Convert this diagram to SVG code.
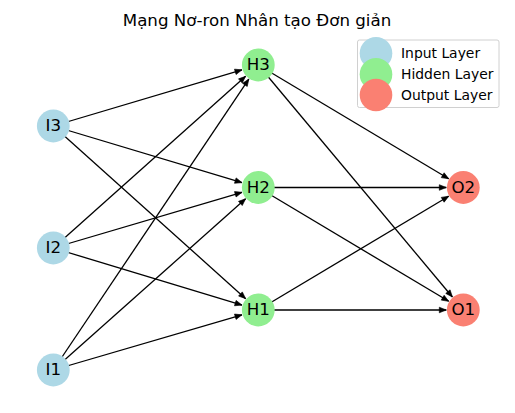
<svg xmlns="http://www.w3.org/2000/svg" width="515" height="413" viewBox="0 0 515 413">
<style>
.edge{stroke:#000;stroke-width:1.3;fill:none;marker-end:url(#ah)}
.lbl{font-family:"DejaVu Sans",sans-serif;font-size:16.67px;fill:#000;text-anchor:middle}
.in{fill:#ADD8E6}
.hid{fill:#90EE90}
.out{fill:#FA8072}
.leg{font-family:"DejaVu Sans",sans-serif;font-size:13.9px;fill:#000}
</style>
<defs>
<marker id="ah" markerUnits="userSpaceOnUse" markerWidth="8" markerHeight="6" refX="7" refY="2.8" orient="auto" overflow="visible">
<path d="M0,0 L7,2.8 L0,5.6 z" fill="#000" stroke="#000" stroke-width="0.6"/>
</marker>
</defs>
<rect width="515" height="413" fill="#fff"/>
<text x="257" y="25.5" font-family="DejaVu Sans, sans-serif" font-size="16.67" text-anchor="middle">Mạng Nơ-ron Nhân tạo Đơn giản</text>
<g id="connectors">
<line class="edge" x1="53.3" y1="126" x2="242.0" y2="69.85"/>
<line class="edge" x1="53.3" y1="126" x2="242.0" y2="182.6"/>
<line class="edge" x1="53.3" y1="126" x2="245.65" y2="298.65"/>
<line class="edge" x1="53.3" y1="248" x2="245.6" y2="76.3"/>
<line class="edge" x1="53.3" y1="248" x2="242.0" y2="192.3"/>
<line class="edge" x1="53.3" y1="248" x2="242.0" y2="305.1"/>
<line class="edge" x1="53.3" y1="370" x2="248.8" y2="79.1"/>
<line class="edge" x1="53.3" y1="370" x2="245.6" y2="198.8"/>
<line class="edge" x1="53.3" y1="370" x2="242.0" y2="314.8"/>
<line class="edge" x1="258.3" y1="65" x2="448.7" y2="178.8"/>
<line class="edge" x1="258.3" y1="65" x2="452.4" y2="297.0"/>
<line class="edge" x1="258.3" y1="187.5" x2="446.3" y2="187.5"/>
<line class="edge" x1="258.3" y1="187.5" x2="448.7" y2="301.3"/>
<line class="edge" x1="258.3" y1="310" x2="448.7" y2="196.2"/>
<line class="edge" x1="258.3" y1="310" x2="446.3" y2="310"/>
</g>
<g id="I3"><circle class="in" cx="53.3" cy="126" r="16.4"/><text class="lbl" x="53.3" y="131">I3</text></g>
<g id="I2"><circle class="in" cx="53.3" cy="248" r="16.4"/><text class="lbl" x="53.3" y="253">I2</text></g>
<g id="I1"><circle class="in" cx="53.3" cy="370" r="16.4"/><text class="lbl" x="53.3" y="375">I1</text></g>
<g id="H3"><circle class="hid" cx="258.3" cy="65" r="16.4"/><text class="lbl" x="258.3" y="70">H3</text></g>
<g id="H2"><circle class="hid" cx="258.3" cy="187.5" r="16.4"/><text class="lbl" x="258.3" y="192.5">H2</text></g>
<g id="H1"><circle class="hid" cx="258.3" cy="310" r="16.4"/><text class="lbl" x="258.3" y="315">H1</text></g>
<g id="O2"><circle class="out" cx="463.3" cy="187.5" r="16.4"/><text class="lbl" x="463.3" y="192.5">O2</text></g>
<g id="O1"><circle class="out" cx="463.3" cy="310" r="16.4"/><text class="lbl" x="463.3" y="315">O1</text></g>
<g id="legend">
<rect x="357.5" y="40" width="141.5" height="67.5" rx="2" fill="#fff" fill-opacity="0.8" stroke="#d0d0d0" stroke-width="1"/>
<circle class="in" cx="376" cy="53.3" r="16.3"/>
<circle class="hid" cx="376" cy="74.3" r="16.3"/>
<circle class="out" cx="376" cy="95" r="16.3"/>
<text class="leg" x="401" y="57.5">Input Layer</text>
<text class="leg" x="401" y="78.5">Hidden Layer</text>
<text class="leg" x="401" y="99.5">Output Layer</text>
</g>
</svg>
